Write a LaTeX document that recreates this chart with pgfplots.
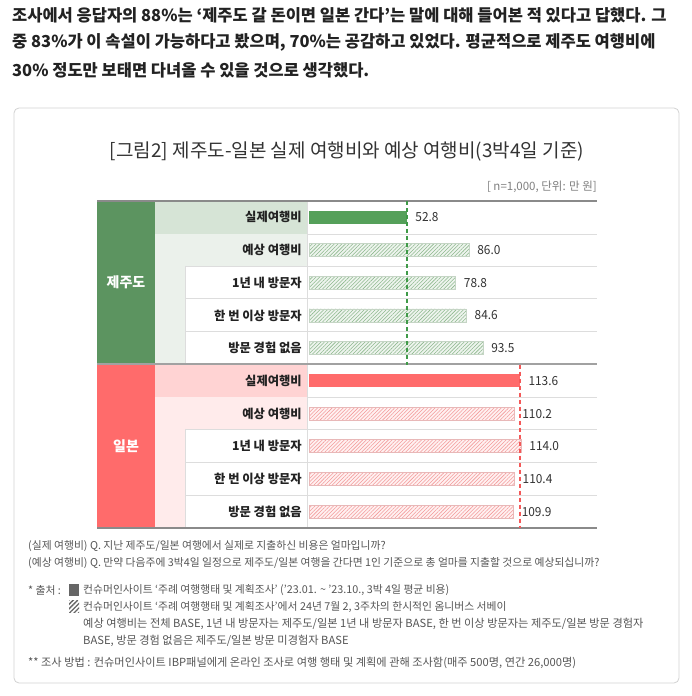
\documentclass[border=0pt]{standalone}
\usepackage{fontspec}
\setmainfont{Noto Sans CJK KR}
\newfontfamily\condfont[FakeStretch=0.95]{Noto Sans CJK KR}
\usepackage{pgfplots}
\pgfplotsset{compat=1.18}
\usetikzlibrary{patterns.meta}

\definecolor{txt}{HTML}{222222}
\definecolor{ttl}{HTML}{333333}
\definecolor{note}{HTML}{555555}
\definecolor{gcol}{HTML}{5C9460}
\definecolor{gbg}{HTML}{D6E4D6}
\definecolor{glight}{HTML}{EBF1EB}
\definecolor{gbar}{HTML}{55A05A}
\definecolor{gdash}{HTML}{3F9A48}
\definecolor{ghbg}{HTML}{EEF4EE}
\definecolor{ghln}{HTML}{8DB88D}
\definecolor{ghbd}{HTML}{C5D5C5}
\definecolor{rcol}{HTML}{FF6B6B}
\definecolor{rbg}{HTML}{FFD3D3}
\definecolor{rlight}{HTML}{FFEBEB}
\definecolor{rbar}{HTML}{FF6B6B}
\definecolor{rdash}{HTML}{F45858}
\definecolor{rhbg}{HTML}{FFF1F1}
\definecolor{rhln}{HTML}{F39A9A}
\definecolor{rhbd}{HTML}{E8B8B8}
\definecolor{gridc}{HTML}{DDDDDD}
\definecolor{rulec}{HTML}{8A8A8A}

\pgfplotsset{
  barstyle/.style={xbar, bar width=13pt, bar shift=0pt,
    nodes near coords={\pgfmathprintnumber[fixed,fixed zerofill,precision=1,assume math mode=true]{\pgfplotspointmeta}},
    point meta=x,
    every node near coord/.append style={anchor=west, inner sep=0pt, xshift=8pt,
      font=\condfont\fontsize{12.5}{13}\selectfont, text=ttl}},
}

\begin{document}
\begin{tikzpicture}
\begin{scope}[x=1pt,y=-1pt,shift={(0pt,696pt)}]
  \fill[white] (0,0) rectangle (691,696);
  \useasboundingbox (0,0) rectangle (691,696);
  % lead paragraph
  \begin{scope}[every node/.style={anchor=west, inner sep=0pt, text=txt,
      font=\bfseries\fontsize{16.5}{18}\selectfont}]
    \node at (12,15) {조사에서 응답자의 88\%는 ‘제주도 갈 돈이면 일본 간다’는 말에 대해 들어본 적 있다고 답했다. 그};
    \node at (12,42) {중 83\%가 이 속설이 가능하다고 봤으며, 70\%는 공감하고 있었다. 평균적으로 제주도 여행비에};
    \node at (12,70) {30\% 정도만 보태면 다녀올 수 있을 것으로 생각했다.};
  \end{scope}
  % frame
  \draw[gray!35, line width=0.8pt, rounded corners=5pt] (14,108) rectangle (679,683);
  \node[text=ttl, font=\fontsize{19}{20}\selectfont, inner sep=0pt] at (347,152)
    {[그림2] 제주도-일본 실제 여행비와 예상 여행비(3박4일 기준)};
  \node[anchor=east, inner sep=0pt, text=gray, font=\fontsize{11.5}{12}\selectfont] at (597,187)
    {[ n=1,000, 단위: 만 원]};
  % table cells: Jeju
  \fill[gcol] (97,201) rectangle (155,364);
  \fill[gbg] (155,201) rectangle (307,234);
  \fill[glight] (155,234) rectangle (307,266);
  \fill[glight] (155,266) rectangle (185,364);
  % table cells: Japan
  \fill[rcol] (97,364) rectangle (155,528);
  \fill[rbg] (155,364) rectangle (307,397);
  \fill[rlight] (155,397) rectangle (307,429);
  \fill[rlight] (155,429) rectangle (185,528);
  % row rules
  \begin{scope}[draw=gridc, line width=0.8pt]
    \draw (307,234) -- (597,234);
    \foreach \yy in {266,298,331} \draw (185,\yy) -- (597,\yy);
    \draw (307,397) -- (597,397);
    \foreach \yy in {429,462,495} \draw (185,\yy) -- (597,\yy);
    \draw (185,266) -- (185,364);
    \draw (185,429) -- (185,528);
    \draw (307,201) -- (307,528);
  \end{scope}
  \draw[rulec, line width=1.8pt] (97,201) -- (597,201);
  \draw[rulec!80, line width=1.2pt] (97,364) -- (597,364);
  \draw[rulec, line width=1.5pt] (97,528) -- (597,528);
  \node[text=white, font=\bfseries\fontsize{14}{14}\selectfont] at (126,282) {제주도};
  \node[text=white, font=\bfseries\fontsize{14}{14}\selectfont] at (126,446) {일본};
  % notes
  \begin{scope}[every node/.style={anchor=west, inner sep=0pt, text=note,
      font=\fontsize{10.8}{11}\selectfont}]
    \node at (28,546) {(실제 여행비) Q. 지난 제주도/일본 여행에서 실제로 지출하신 비용은 얼마입니까?};
    \node at (28,563) {(예상 여행비) Q. 만약 다음주에 3박4일 일정으로 제주도/일본 여행을 간다면 1인 기준으로 총 얼마를 지출할 것으로 예상되십니까?};
    \node at (28,590) {* 출처 :};
    \node at (83,590) {컨슈머인사이트 ‘주례 여행행태 및 계획조사’ (’23.01. \textasciitilde{} ’23.10., 3박 4일 평균 비용)};
    \node at (83,607) {컨슈머인사이트 ‘주례 여행행태 및 계획조사’에서 24년 7월 2, 3주차의 한시적인 옴니버스 서베이};
    \node[font=\fontsize{11.2}{11}\selectfont] at (83,624) {예상 여행비는 전체 BASE, 1년 내 방문자는 제주도/일본 1년 내 방문자 BASE, 한 번 이상 방문자는 제주도/일본 방문 경험자};
    \node[font=\fontsize{11.2}{11}\selectfont] at (83,641) {BASE, 방문 경험 없음은 제주도/일본 방문 미경험자 BASE};
    \node[font=\fontsize{11.2}{11}\selectfont] at (28,663) {** 조사 방법 : 컨슈머인사이트 IBP패널에게 온라인 조사로 여행 행태 및 계획에 관해 조사함(매주 500명, 연간 26,000명)};
  \end{scope}
  \fill[gray!80!black] (69,584) rectangle (79,596);
  \fill[pattern={Lines[angle=45,distance=3.2pt,line width=1.3pt]}, pattern color=gray!80!black] (69,601) rectangle (79,613);
\end{scope}

\begin{axis}[
  at={(307pt,168pt)}, anchor=south west,
  width=290pt, height=327pt, scale only axis,
  xmin=-1.1, xmax=154.8,
  ymin=-0.5, ymax=9.5, y dir=reverse,
  axis line style={draw=none},
  xtick=\empty,
  ytick={0,...,9},
  yticklabels={실제여행비,예상 여행비,1년 내 방문자,한 번 이상 방문자,방문 경험 없음,
               실제여행비,예상 여행비,1년 내 방문자,한 번 이상 방문자,방문 경험 없음},
  major tick length=0pt,
  tick style={draw=none},
  yticklabel style={anchor=east, inner sep=0pt, xshift=-5pt, text=txt,
    font=\bfseries\fontsize{12.3}{13}\selectfont},
  clip=false,
]
  % Jeju actual
  \addplot[barstyle, fill=gbar, draw=none] coordinates {(52.8,0)};
  % Jeju expected
  \addplot[barstyle, fill=ghbg, draw=ghbd, line width=0.6pt,
    postaction={pattern={Lines[angle=45,distance=2.6pt,line width=0.55pt]}, pattern color=ghln}]
    coordinates {(86.0,1) (78.8,2) (84.6,3) (93.5,4)};
  % Japan actual
  \addplot[barstyle, fill=rbar, draw=none] coordinates {(113.6,5)};
  % Japan expected
  \addplot[barstyle, fill=rhbg, draw=rhbd, line width=0.6pt,
    postaction={pattern={Lines[angle=45,distance=2.6pt,line width=0.55pt]}, pattern color=rhln}]
    coordinates {(110.2,6) (114.0,7) (110.4,8) (109.9,9)};
  % reference lines at actual cost
  \addplot[color=gdash, line width=1.8pt, dash pattern=on 4pt off 3pt] coordinates {(52.8,-0.5) (52.8,4.5)};
  \addplot[color=rdash, line width=1.8pt, dash pattern=on 4pt off 3pt] coordinates {(113.6,4.5) (113.6,9.5)};
\end{axis}
\end{tikzpicture}
\end{document}
